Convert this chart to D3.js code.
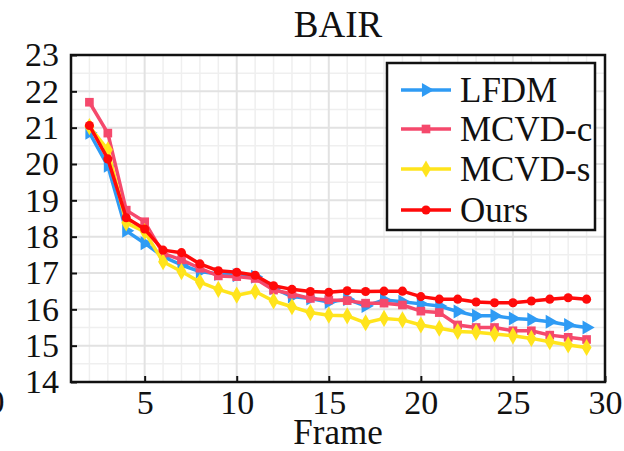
<!DOCTYPE html>
<html>
<head>
<meta charset="utf-8">
<script src="https://cdn.jsdelivr.net/npm/d3@7"></script>
<style>
  body { margin: 0; background: #fff; }
  text { font-family: "Liberation Serif", "Times New Roman", serif; fill: #111; }
</style>
</head>
<body>
<script>
// frames 2..29
const frames = d3.range(2, 30);

const lfdm  = [20.86, 19.95, 18.16, 17.82, 17.45, 17.22, 17.04, 16.97, 16.94, 16.90, 16.58, 16.35, 16.30, 16.20,
               16.28, 16.09, 16.26, 16.21, 16.15, 16.09, 15.94, 15.82, 15.82, 15.75, 15.72, 15.66, 15.57, 15.50];
const mcvdC = [21.70, 20.85, 18.73, 18.41, 17.54, 17.36, 17.13, 16.92, 16.90, 16.85, 16.53, 16.42, 16.30, 16.26,
               16.24, 16.17, 16.17, 16.12, 15.95, 15.91, 15.57, 15.50, 15.50, 15.41, 15.41, 15.29, 15.23, 15.17];
const mcvdS = [21.03, 20.39, 18.38, 18.14, 17.31, 17.04, 16.75, 16.55, 16.39, 16.49, 16.23, 16.07, 15.91, 15.84,
               15.82, 15.63, 15.75, 15.71, 15.57, 15.48, 15.39, 15.37, 15.32, 15.27, 15.20, 15.11, 15.02, 14.95];
const ours  = [21.06, 20.14, 18.52, 18.21, 17.63, 17.56, 17.25, 17.06, 17.02, 16.94, 16.65, 16.55, 16.49, 16.47,
               16.51, 16.49, 16.50, 16.50, 16.35, 16.28, 16.28, 16.20, 16.18, 16.18, 16.23, 16.28, 16.32, 16.28];

const xTicks = [5, 10, 15, 20, 25, 30];
const yTicks = [14, 15, 16, 17, 18, 19, 20, 21, 22, 23];

const series = [
  { name: "LFDM",    values: lfdm,  color: "#2f9bf4", marker: "tri" },
  { name: "MCVD-c",  values: mcvdC, color: "#f5496c", marker: "square" },
  { name: "MCVD-s",  values: mcvdS, color: "#ffe41c", marker: "diamond" },
  { name: "Ours",    values: ours,  color: "#ff0a0a", marker: "dot" }
];

const W = 624, H = 451;
const margin = { top: 55, right: 19, bottom: 69, left: 71 };

const svg = d3.select("body").append("svg")
  .attr("width", W)
  .attr("height", H);

const x = d3.scaleLinear().domain([1, 30]).range([margin.left, W - margin.right]);
const y = d3.scaleLinear().domain([14, 23]).range([H - margin.bottom, margin.top]);

// grid: minor (x every 1, y every 0.5) then major
const grid = svg.append("g");
grid.selectAll(".vmin").data(d3.range(2, 30).filter(d => d % 5 !== 0)).join("line")
  .attr("x1", d => x(d)).attr("x2", d => x(d))
  .attr("y1", y(14)).attr("y2", y(23))
  .attr("stroke", "#efefef").attr("stroke-width", 1.5);
grid.selectAll(".hmin").data(d3.range(14.5, 23, 1)).join("line")
  .attr("y1", d => y(d)).attr("y2", d => y(d))
  .attr("x1", x(1)).attr("x2", x(30))
  .attr("stroke", "#efefef").attr("stroke-width", 1.5);
grid.selectAll(".vmaj").data(xTicks.slice(0, -1)).join("line")
  .attr("x1", d => x(d)).attr("x2", d => x(d))
  .attr("y1", y(14)).attr("y2", y(23))
  .attr("stroke", "#e2e2e2").attr("stroke-width", 2);
grid.selectAll(".hmaj").data(yTicks.slice(1, -1)).join("line")
  .attr("y1", d => y(d)).attr("y2", d => y(d))
  .attr("x1", x(1)).attr("x2", x(30))
  .attr("stroke", "#e2e2e2").attr("stroke-width", 2);

// axes
const xAxis = d3.axisBottom(x).tickValues(xTicks).tickSizeInner(-6).tickSizeOuter(0).tickPadding(6);
const yAxis = d3.axisLeft(y).tickValues(yTicks).tickSizeInner(-6).tickSizeOuter(0).tickPadding(12);

const gx = svg.append("g").attr("transform", "translate(0," + y(14) + ")").call(xAxis);
const gy = svg.append("g").attr("transform", "translate(" + x(1) + ",0)").call(yAxis);
[gx, gy].forEach(g => {
  g.select(".domain").remove();
  g.selectAll(".tick line").attr("stroke", "#111").attr("stroke-width", 2);
  g.selectAll(".tick text").style("font-size", "34px").attr("fill", "#111");
});
gx.selectAll(".tick text").attr("dy", "0.75em");

// stray "0" at far left, cut by the page edge
svg.append("text").attr("x", -4).attr("y", 413)
  .attr("text-anchor", "middle").style("font-size", "34px").text("0");

// lines and markers
const line = d3.line().x((d, i) => x(frames[i])).y(d => y(d));

const symbols = {
  tri: d3.symbol().type(d3.symbolTriangle).size(85),
  square: d3.symbol().type(d3.symbolSquare).size(75),
  diamond: d3.symbol().type(d3.symbolDiamond).size(85),
  dot: d3.symbol().type(d3.symbolCircle).size(65)
};
const rot = { tri: 90, square: 0, diamond: 0, dot: 0 };

series.forEach(s => {
  const g = svg.append("g");
  g.append("path").datum(s.values)
    .attr("d", line)
    .attr("fill", "none")
    .attr("stroke", s.color)
    .attr("stroke-width", 3.5)
    .attr("stroke-linejoin", "round");
  g.selectAll("path.m").data(s.values).join("path")
    .attr("class", "m")
    .attr("d", symbols[s.marker])
    .attr("transform", (d, i) => "translate(" + x(frames[i]) + "," + y(d) + ") rotate(" + rot[s.marker] + ")")
    .attr("fill", s.color);
});

// axes box
svg.append("rect")
  .attr("x", x(1)).attr("y", y(23))
  .attr("width", x(30) - x(1)).attr("height", y(14) - y(23))
  .attr("fill", "none").attr("stroke", "#111").attr("stroke-width", 2.5);

// title and label
svg.append("text").attr("x", 338).attr("y", 37)
  .attr("text-anchor", "middle").style("font-size", "37px").text("BAIR");
svg.append("text").attr("x", 338).attr("y", 444)
  .attr("text-anchor", "middle").style("font-size", "35px").text("Frame");

// legend
const lg = svg.append("g");
lg.append("rect")
  .attr("x", 387).attr("y", 63).attr("width", 208).attr("height", 167)
  .attr("fill", "#fff").attr("stroke", "#111").attr("stroke-width", 2.5);
const rowY = [90, 129, 169, 210];
series.forEach((s, i) => {
  const row = lg.append("g").attr("transform", "translate(0," + rowY[i] + ")");
  row.append("line").attr("x1", 401).attr("x2", 451).attr("y1", 0).attr("y2", 0)
    .attr("stroke", s.color).attr("stroke-width", 3.5);
  row.append("path").attr("d", symbols[s.marker])
    .attr("transform", "translate(426,0) rotate(" + rot[s.marker] + ")")
    .attr("fill", s.color);
  row.append("text").attr("x", 460).attr("y", 0).attr("dy", "0.35em")
    .style("font-size", "35px").text(s.name);
});
</script>
</body>
</html>
